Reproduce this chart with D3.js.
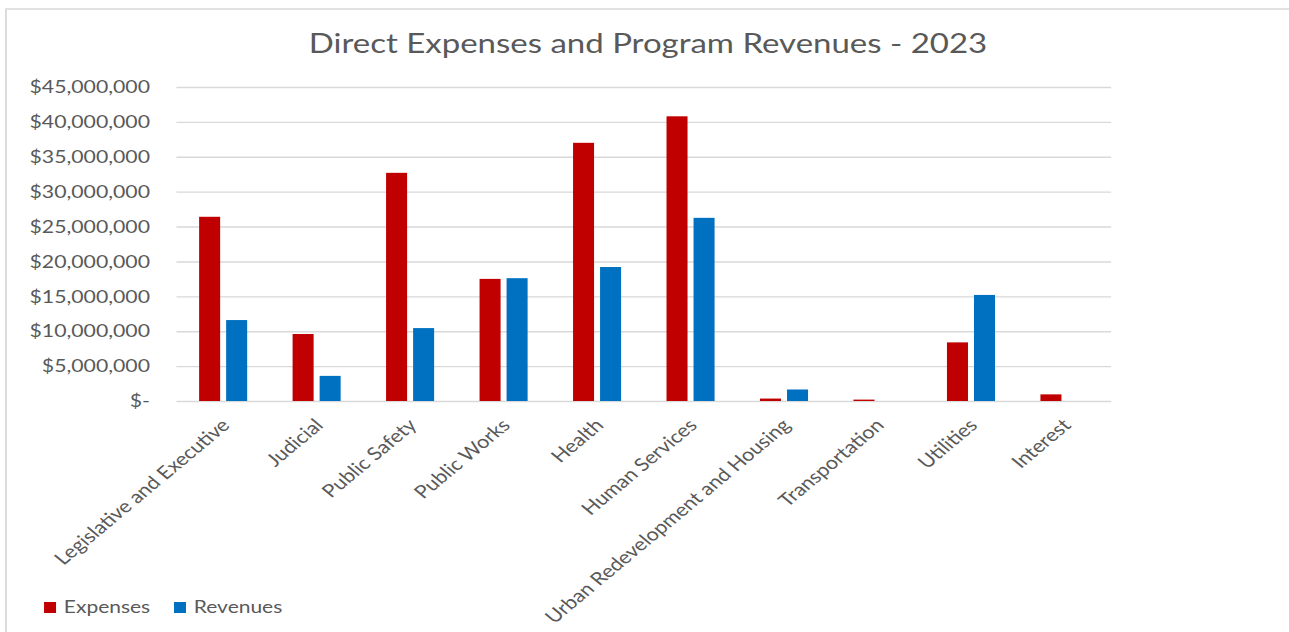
<!DOCTYPE html>
<html lang="en">
<head>
<meta charset="utf-8">
<title>Direct Expenses and Program Revenues - 2023</title>
<style>
body {
	margin: 0;
	background: #fff;
}
text {
	font-family: Lato, "Open Sans", sans-serif;
	fill: #595959;
}
</style>
<script src="https://cdn.jsdelivr.net/npm/d3@7"></script>
</head>
<body>
<div id="chart"></div>
<script>
// values, in dollars
var categories = ["Legislative and Executive", "Judicial", "Public Safety", "Public Works", "Health",
                  "Human Services", "Urban Redevelopment and Housing", "Transportation", "Utilities", "Interest"];
var expenses = [26400000, 9600000, 32700000, 17500000, 37000000, 40800000, 350000, 200000, 8400000, 950000];
var revenues = [11600000, 3600000, 10450000, 17600000, 19200000, 26250000, 1650000, 0, 15200000, 0];
var seriesNames = ["Expenses", "Revenues"];
var seriesColors = ["#C00000", "#0070C0"];
var yTicks = [0, 5000000, 10000000, 15000000, 20000000, 25000000, 30000000, 35000000, 40000000, 45000000];
var chartTitle = "Direct Expenses and Program Revenues - 2023";

// the source screenshot is stretched sideways, so draw in a narrower frame
// and let the viewBox stretch it back out
var stretch = 1.2;
var pageW = 1289, pageH = 632;
var W = pageW / stretch;

var margin = {left: 147, right: W - 926, top: 87, bottom: pageH - 401};
var plotW = W - margin.left - margin.right,
    plotH = pageH - margin.top - margin.bottom;

var data = categories.map(function(c, i) {
    return {category: c, values: [
        {key: seriesNames[0], value: expenses[i]},
        {key: seriesNames[1], value: revenues[i]}
    ]};
});

var svg = d3.select("#chart").append("svg")
    .attr("width", pageW)
    .attr("height", pageH)
    .attr("viewBox", "0 0 " + W + " " + pageH)
    .attr("preserveAspectRatio", "none");

// chart frame, runs off the right and bottom edge
svg.append("rect")
    .attr("x", 5)
    .attr("y", 9)
    .attr("width", W + 20)
    .attr("height", pageH + 20)
    .style("fill", "none")
    .style("stroke", "#d9d9d9")
    .style("stroke-width", 1.5);

svg.append("text")
    .attr("x", 540)
    .attr("y", 53)
    .attr("text-anchor", "middle")
    .style("font-size", "27.5px")
    .text(chartTitle);

var g = svg.append("g")
    .attr("transform", "translate(" + margin.left + "," + margin.top + ")");

var x0 = d3.scaleBand()
    .domain(categories)
    .range([0, plotW])
    .paddingInner(0.486)
    .paddingOuter(0.243);

var x1 = d3.scaleBand()
    .domain(seriesNames)
    .range([0, x0.bandwidth()])
    .paddingInner(0.222);

var y = d3.scaleLinear()
    .domain([0, 45000000])
    .range([plotH, 0]);

var color = d3.scaleOrdinal()
    .domain(seriesNames)
    .range(seriesColors);

// gridlines
g.append("g")
    .call(d3.axisLeft(y).tickValues(yTicks).tickSize(-plotW).tickFormat(""))
    .call(function(a) { a.select(".domain").remove(); })
    .selectAll("line")
        .style("stroke", "#d9d9d9")
        .style("stroke-width", 1.4);

// y labels
g.append("g")
    .call(d3.axisLeft(y).tickValues(yTicks).tickSize(0).tickPadding(22)
        .tickFormat(function(d) { return d === 0 ? "$-" : d3.format("$,")(d); }))
    .call(function(a) { a.select(".domain").remove(); })
    .selectAll("text")
        .style("font-size", "17.7px")
        .style("fill", "#595959")
        .style("font-family", "Lato, 'Open Sans', sans-serif");

var groups = g.selectAll(".cat")
    .data(data)
    .enter()
    .append("g")
        .attr("class", "cat")
        .attr("transform", function(d) { return "translate(" + x0(d.category) + ",0)"; });

groups.selectAll("rect")
    .data(function(d) { return d.values; })
    .enter()
    .append("rect")
        .attr("x", function(d) { return x1(d.key); })
        .attr("y", function(d) { return y(d.value); })
        .attr("width", x1.bandwidth())
        .attr("height", function(d) { return plotH - y(d.value); })
        .style("fill", function(d) { return color(d.key); });

// rotated category labels
g.selectAll(".xlab")
    .data(categories)
    .enter()
    .append("text")
        .attr("class", "xlab")
        .attr("transform", function(d) {
            return "translate(" + (x0(d) + x0.bandwidth() / 2 + 2) + "," + (plotH + 21) + ") rotate(-45)";
        })
        .attr("text-anchor", "end")
        .attr("dy", "0.35em")
        .style("font-size", "18px")
        .text(function(d) { return d; });

// legend
var legend = svg.selectAll(".leg")
    .data(seriesNames)
    .enter()
    .append("g")
        .attr("class", "leg")
        .attr("transform", function(d, i) { return "translate(" + (36.7 + i * 108.3) + ",602)"; });

legend.append("rect")
    .attr("width", 10)
    .attr("height", 11)
    .style("fill", function(d) { return color(d); });

legend.append("text")
    .attr("x", 16.5)
    .attr("y", 11)
    .style("font-size", "17.5px")
    .text(function(d) { return d; });
</script>
</body>
</html>
